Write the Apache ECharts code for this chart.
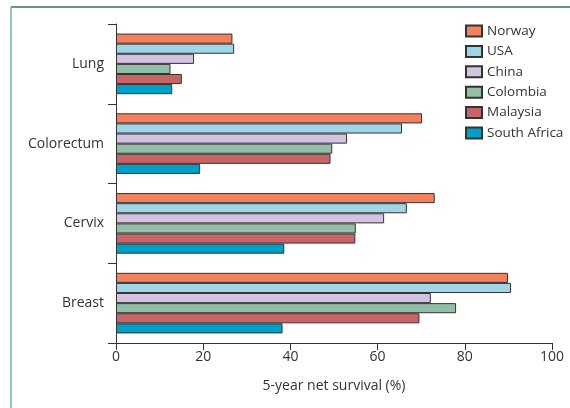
<!DOCTYPE html>
<html>
<head>
<meta charset="utf-8">
<script src="https://cdn.jsdelivr.net/npm/echarts@6/dist/echarts.min.js"></script>
<style>html,body{margin:0;padding:0;background:#fff}#c{width:570px;height:408px}</style>
</head>
<body>
<div id="c"></div>
<script>
const categories = ['Lung', 'Colorectum', 'Cervix', 'Breast'];
const countries = ['Norway', 'USA', 'China', 'Colombia', 'Malaysia', 'South Africa'];
const norway = [26.7, 70.2, 73.1, 89.9];
const usa = [27.1, 65.6, 66.7, 90.6];
const china = [17.9, 53.0, 61.5, 72.2];
const colombia = [12.5, 49.6, 55.0, 78.0];
const malaysia = [15.1, 49.2, 54.9, 69.6];
const southAfrica = [12.9, 19.3, 38.6, 38.2];
const xTicks = [0, 20, 40, 60, 80, 100];
const colors = ['#f4805e', '#9fd5e6', '#d2c3e0', '#93bfa6', '#c96466', '#00a1c6'];
const values = [norway, usa, china, colombia, malaysia, southAfrica];

const FONT = 'Open Sans';
const chart = echarts.init(document.getElementById('c'));
chart.setOption({
  animation: false,
  textStyle: { fontFamily: FONT, color: '#333' },
  graphic: [
    { type: 'line', shape: { x1: 11, y1: 7, x2: 570, y2: 7 }, style: { stroke: '#2d7a56', lineWidth: 1.5 } },
    { type: 'line', shape: { x1: 11, y1: 7, x2: 11, y2: 408 }, style: { stroke: '#72b396', lineWidth: 1.5 } }
  ],
  legend: {
    orient: 'vertical',
    left: 460,
    top: 19,
    icon: 'rect',
    itemWidth: 16,
    itemHeight: 11,
    itemGap: 6.4,
    data: countries,
    textStyle: { fontFamily: FONT, fontSize: 13.5, color: '#333' }
  },
  grid: { left: 116, right: 18, top: 24, bottom: 65 },
  xAxis: {
    type: 'value',
    min: 0, max: 100, interval: 20,
    name: '5-year net survival (%)',
    nameLocation: 'middle',
    nameGap: 36,
    nameTextStyle: { fontFamily: FONT, fontSize: 14, color: '#333' },
    axisLine: { show: true, lineStyle: { color: '#333', width: 1 } },
    axisTick: { show: true, length: 7, lineStyle: { color: '#333' } },
    axisLabel: { fontFamily: FONT, fontSize: 14, color: '#333', margin: 7,
      formatter: v => xTicks.includes(v) ? String(v) : '' },
    splitLine: { show: false }
  },
  yAxis: {
    type: 'category',
    inverse: true,
    data: categories,
    axisLine: { show: true, lineStyle: { color: '#333', width: 1 } },
    axisTick: { show: true, length: 8, lineStyle: { color: '#333' } },
    axisLabel: { fontFamily: FONT, fontSize: 14, color: '#333', margin: 12 }
  },
  series: countries.map((name, i) => ({
    name,
    type: 'bar',
    data: values[i],
    barGap: '0%',
    barCategoryGap: '24%',
    itemStyle: { color: colors[i], borderColor: '#333', borderWidth: 1 }
  }))
});
</script>
</body>
</html>
